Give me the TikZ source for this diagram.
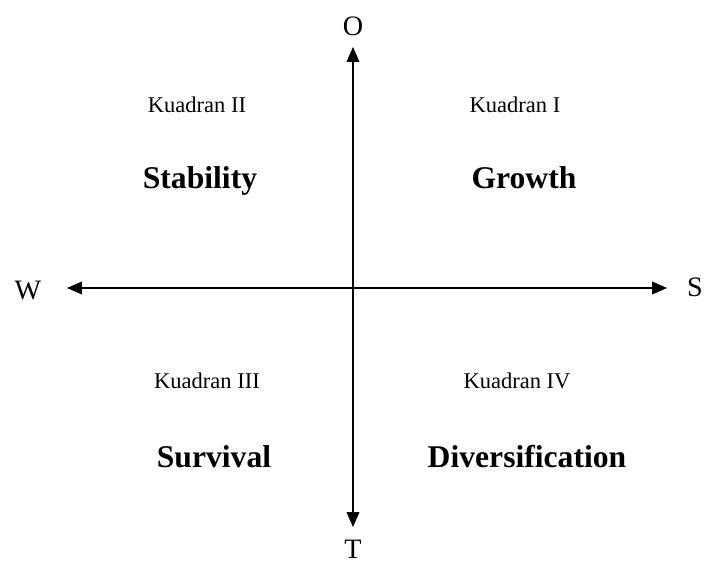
\documentclass[tikz,border=0pt]{standalone}
\usepackage{fontspec}
\setmainfont{Liberation Serif}
\usetikzlibrary{arrows.meta}

\begin{document}
\begin{tikzpicture}[x=1cm,y=1cm,>={Triangle[length=10.5pt,width=9pt]},line cap=round,line join=round]
\useasboundingbox (0,0) rectangle (17.625,14.1);
\coordinate (top) at (8.825,12.925);
\coordinate (bot) at (8.825,0.925);
\coordinate (lft) at (1.675,6.9);
\coordinate (rgt) at (16.675,6.9);
\draw[<->,line width=0.9pt] (bot) -- (top);
\draw[<->,line width=0.9pt] (lft) -- (rgt);
\node[font=\fontsize{20}{24}\selectfont] (O) at (8.825,13.45) {O};
\node[inner sep=0pt,font=\fontsize{20}{24}\selectfont] (T) at (8.825,0.38) {T};
\node[font=\fontsize{20}{24}\selectfont] (W) at (0.7,6.825) {W};
\node[font=\fontsize{20}{24}\selectfont] (S) at (17.375,6.925) {S};
\node[font=\fontsize{16}{19}\selectfont] (k2) at (4.925,11.475) {Kuadran II};
\node[font=\fontsize{16}{19}\selectfont] (k1) at (12.875,11.475) {Kuadran I};
\node[font=\fontsize{16}{19}\selectfont] (k3) at (5.175,4.575) {Kuadran III};
\node[font=\fontsize{16}{19}\selectfont] (k4) at (12.925,4.575) {Kuadran IV};
\node[anchor=base,font=\bfseries\fontsize{22.5}{27}\selectfont] (stab) at (5.0,9.4) {Stability};
\node[anchor=base,font=\bfseries\fontsize{22.5}{27}\selectfont] (grow) at (13.1,9.4) {Growth};
\node[anchor=base,font=\bfseries\fontsize{22.5}{27}\selectfont] (surv) at (5.35,2.42) {Survival};
\node[anchor=base,font=\bfseries\fontsize{22.5}{27}\selectfont] (divr) at (13.175,2.42) {Diversification};
\end{tikzpicture}
\end{document}
